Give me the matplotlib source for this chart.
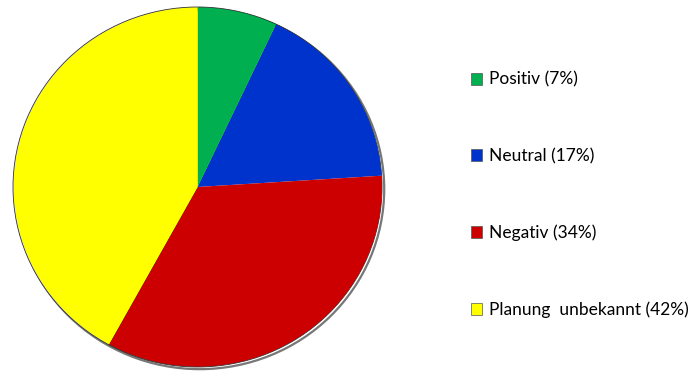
import matplotlib.pyplot as plt
from matplotlib.patches import Ellipse

labels = ["Positiv (7%)", "Neutral (17%)", "Negativ (34%)", "Planung  unbekannt (42%)"]
shares = [7, 17, 34, 42]
colors = ["#00B050", "#0033CC", "#CC0000", "#FFFF00"]

plt.rcParams['font.family'] = ['Lato', 'DejaVu Sans']

fig = plt.figure(figsize=(6.95, 3.76), dpi=100)
ax = fig.add_axes([13 / 695, 9 / 376, 369 / 695, 360 / 376])

wedges, _ = ax.pie(shares, colors=colors, startangle=90, counterclock=False,
                   wedgeprops=dict(linewidth=0))
ax.set_xlim(-1.0, 1.0)
ax.set_ylim(-1.0, 1.0)
ax.set_aspect('auto')
ax.axis('off')

# dark rim with a slight shadow on the lower right
ax.add_patch(Ellipse((0.012, -0.012), 2.0, 2.0, fill=False, edgecolor='#777777',
                     linewidth=1.6, zorder=0, clip_on=False))
ax.add_patch(Ellipse((0, 0), 2.0, 2.0, fill=False, edgecolor='#333333',
                     linewidth=0.6, zorder=3, clip_on=False))

for w in wedges:
    w.set_edgecolor('#555555')
leg = fig.legend(wedges, labels, loc='upper left', bbox_to_anchor=(455 / 695, 1 - 56 / 376),
                 frameon=False, fontsize=12.5, handlelength=0.68, handleheight=0.68,
                 handletextpad=0.35, labelspacing=3.47)
for h in leg.legend_handles:
    h.set_linewidth(0.5)
for w in wedges:
    w.set_linewidth(0)

fig.savefig('out.png', dpi=100)
